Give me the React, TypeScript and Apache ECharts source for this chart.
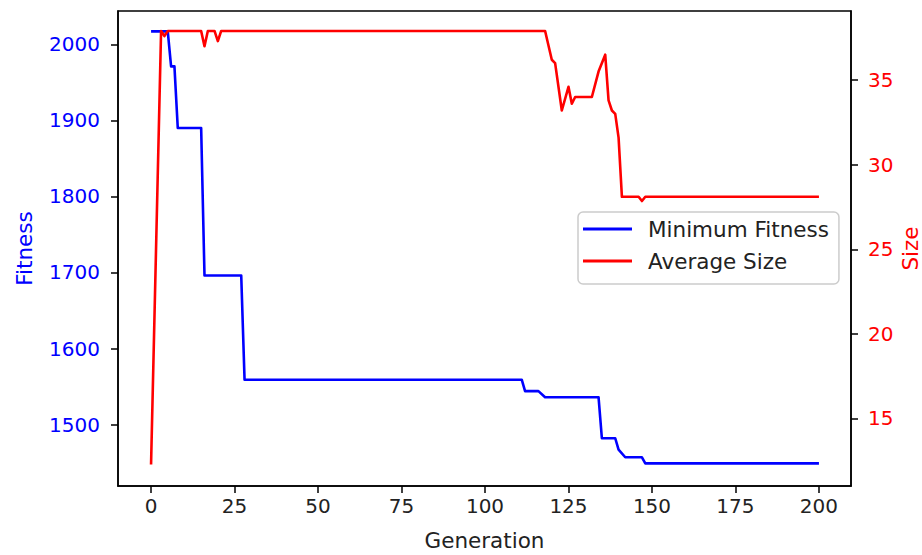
import React, { useEffect, useRef } from "react";
import * as echarts from "echarts";

// Minimum fitness per generation (breakpoints)
const fitnessGenerations = [0, 5, 6, 7, 8, 15, 16, 27, 28, 111, 112, 116, 118, 134, 135, 139, 140, 142, 147, 148, 200];
const minimumFitness = [2017, 2017, 1971, 1971, 1890, 1890, 1696, 1696, 1559, 1559, 1544, 1544, 1536, 1536, 1482, 1482, 1467, 1457, 1457, 1449, 1449];

// Average size per generation
const sizeGenerations = [0, 3, 4, 5, 15, 16, 17, 19, 20, 21, 118, 120, 121, 123, 125, 126, 127, 132, 134, 136, 137, 138, 139, 140, 141, 146, 147, 148, 200];
const averageSize = [12.28, 37.9, 37.6, 37.9, 37.9, 37.0, 37.9, 37.9, 37.3, 37.9, 37.9, 36.2, 36.0, 33.2, 34.6, 33.6, 34.0, 34.0, 35.5, 36.5, 33.8, 33.2, 33.0, 31.6, 28.1, 28.1, 27.85, 28.1, 28.1];

// Tick labels
const generationTicks = [0, 25, 50, 75, 100, 125, 150, 175, 200];
const fitnessTicks = [1500, 1600, 1700, 1800, 1900, 2000];
const sizeTicks = [15, 20, 25, 30, 35];

const FONT = "DejaVu Sans";
const FS = 20;
const TITLE_FS = 21.5;

export default function App() {
  const ref = useRef<HTMLDivElement>(null);

  useEffect(() => {
    document.body.style.margin = "0";
    const chart = echarts.init(ref.current!, null, { renderer: "svg" });

    const fitnessData = fitnessGenerations.map((g, i) => [g, minimumFitness[i]]);
    const sizeData = sizeGenerations.map((g, i) => [g, averageSize[i]]);

    const tickStyle = { color: "#000", width: 1.5 };
    const plain = (v: number) => String(v);

    chart.setOption({
      animation: false,
      backgroundColor: "#fff",
      textStyle: { fontFamily: FONT },
      grid: {
        left: 118,
        top: 11,
        width: 733,
        height: 475,
        show: true,
        borderColor: "#000",
        borderWidth: 1.5,
        backgroundColor: "transparent",
        outerBoundsMode: "none",
      },
      legend: {
        orient: "vertical",
        left: 578,
        top: 212,
        padding: [6, 10, 12, 5],
        itemGap: 10,
        itemWidth: 49,
        itemHeight: 3,
        icon: "rect",
        backgroundColor: "rgba(255,255,255,0.8)",
        borderColor: "#cccccc",
        borderWidth: 1.5,
        borderRadius: 5,
        textStyle: {
          fontFamily: FONT,
          fontSize: TITLE_FS,
          color: "#222",
          lineHeight: 22,
          padding: [0, 0, 0, 11],
        },
        data: ["Minimum Fitness", "Average Size"],
      },
      xAxis: {
        type: "value",
        min: -9.9,
        max: 209.6,
        name: "Generation",
        nameLocation: "middle",
        nameGap: 43,
        nameMoveOverlap: false,
        nameTextStyle: { fontFamily: FONT, fontSize: TITLE_FS, color: "#222" },
        axisLine: { show: true, onZero: false, lineStyle: tickStyle },
        axisTick: { show: true, length: 7, lineStyle: tickStyle, customValues: generationTicks },
        axisLabel: { customValues: generationTicks, formatter: plain, color: "#222", fontSize: FS, fontFamily: FONT, margin: 10 },
        splitLine: { show: false },
      },
      yAxis: [
        {
          type: "value",
          position: "left",
          min: 1419.2,
          max: 2043.8,
          name: "Fitness",
          nameLocation: "middle",
          nameGap: 83,
          nameMoveOverlap: false,
          nameTextStyle: { fontFamily: FONT, fontSize: TITLE_FS, color: "#0000ff" },
          axisLine: { show: true, onZero: false, lineStyle: tickStyle },
          axisTick: { show: true, length: 7, lineStyle: tickStyle, customValues: fitnessTicks },
          axisLabel: { customValues: fitnessTicks, formatter: plain, color: "#0000ff", fontSize: FS, fontFamily: FONT, margin: 18 },
          splitLine: { show: false },
        },
        {
          type: "value",
          position: "right",
          min: 11.01,
          max: 39.08,
          name: "Size",
          nameLocation: "middle",
          nameGap: 48,
          nameMoveOverlap: false,
          nameTextStyle: { fontFamily: FONT, fontSize: TITLE_FS, color: "#ff0000" },
          axisLine: { show: true, onZero: false, lineStyle: tickStyle },
          axisTick: { show: true, length: 7, lineStyle: tickStyle, customValues: sizeTicks },
          axisLabel: { customValues: sizeTicks, formatter: plain, color: "#ff0000", fontSize: FS, fontFamily: FONT, margin: 17 },
          splitLine: { show: false },
        },
      ],
      series: [
        {
          name: "Minimum Fitness",
          type: "line",
          yAxisIndex: 0,
          data: fitnessData,
          showSymbol: false,
          symbol: "none",
          color: "#0000ff",
          lineStyle: { color: "#0000ff", width: 2.6, join: "round" },
          z: 2,
        },
        {
          name: "Average Size",
          type: "line",
          yAxisIndex: 1,
          data: sizeData,
          showSymbol: false,
          symbol: "none",
          color: "#ff0000",
          lineStyle: { color: "#ff0000", width: 2.6, join: "round" },
          z: 3,
        },
      ],
    });

    return () => chart.dispose();
  }, []);

  return <div ref={ref} style={{ width: 922, height: 555 }} />;
}
